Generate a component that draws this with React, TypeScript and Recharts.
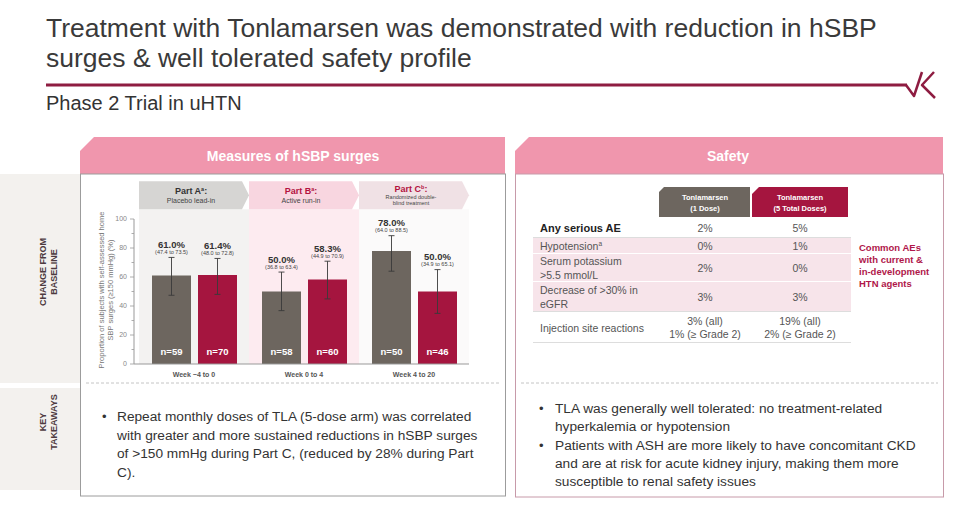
import React from "react";
import { BarChart, Bar, XAxis, YAxis, ErrorBar, LabelList, ReferenceArea } from "recharts";

const weeks = ["Week \u22124 to 0", "Week 0 to 4", "Week 4 to 20"];
const oneDose = [61.0, 50.0, 78.0];
const oneDoseLow = [47.4, 36.8, 64.0];
const oneDoseHigh = [73.5, 63.4, 88.5];
const oneDoseN = [59, 58, 50];
const fiveDose = [61.4, 58.3, 50.0];
const fiveDoseLow = [48.0, 44.9, 34.9];
const fiveDoseHigh = [72.8, 70.9, 65.1];
const fiveDoseN = [70, 60, 46];
const yTicks = [0, 10, 20, 30, 40, 50, 60, 70, 80, 90, 100];

const partTitles = ["Part A", "Part B", "Part C"];
const partNotes = ["a", "a", "b"];
const partSubtitles = [["Placebo lead-in"], ["Active run-in"], ["Randomized double-", "blind treatment"]];
const partTop = 126; // header band reaches above the 100 line

const aeLabels = [
  ["Any serious AE"],
  ["Hypotension"],
  ["Serum potassium", ">5.5 mmol/L"],
  ["Decrease of >30% in", "eGFR"],
  ["Injection site reactions"],
];
const aeNotes = ["", "a", "", "", ""];
const aeOneDose = [["2%"], ["0%"], ["2%"], ["3%"], ["3% (all)", "1% (\u2265 Grade 2)"]];
const aeFiveDose = [["5%"], ["1%"], ["0%"], ["3%"], ["19% (all)", "2% (\u2265 Grade 2)"]];

const chartData = weeks.map((week, i) => ({
  week,
  one: oneDose[i],
  five: fiveDose[i],
  oneErr: [oneDose[i] - oneDoseLow[i], oneDoseHigh[i] - oneDose[i]],
  fiveErr: [fiveDose[i] - fiveDoseLow[i], fiveDoseHigh[i] - fiveDose[i]],
}));

const SANS = '"Liberation Sans", Arial, sans-serif';
const PINK = "#f096ad";
const MAROON = "#a5153f";
const GRAY = "#6d665f";

const headerFill = ["#d6d5d3", "#f8d6e0", "#f0e1e5"];
const bandFill = ["#f3f2f1", "#fdebf0", "#fbfafa"];
const titleFill = ["#333333", "#b3123f", "#b3123f"];

// table row layout
const rowTops = [218, 238, 254, 282, 312];
const rowHeights = [20, 16, 28, 30, 31];

function PartHeader(props: any) {
  const { x, y, width, height, index } = props;
  const h = 28;
  const cx = x + (width - 6) / 2;
  const subs = partSubtitles[index];
  const twoLine = subs.length > 1;
  return (
    <g>
      <rect x={x} y={y + h} width={width} height={height - h} fill={bandFill[index]} />
      <path
        d={`M${x},${y} L${x + width - 7},${y} L${x + width},${y + h / 2} L${x + width - 7},${y + h} L${x},${y + h} Z`}
        fill={headerFill[index]}
      />
      <text x={cx} y={y + (twoLine ? 11 : 12.5)} textAnchor="middle" fontFamily={SANS} fontSize={9} fontWeight="bold" fill={titleFill[index]}>
        {partTitles[index]}
        <tspan fontSize={5.5} dy={-3}>{partNotes[index]}</tspan>
        <tspan dy={3}>:</tspan>
      </text>
      {subs.map((s, k) => (
        <text
          key={k}
          x={cx}
          y={y + (twoLine ? 18 + k * 5.5 : 21.5)}
          textAnchor="middle"
          fontFamily={SANS}
          fontSize={twoLine ? 5.5 : 7}
          fill="#444"
        >
          {s}
        </text>
      ))}
    </g>
  );
}

function makeTopLabel(values: number[], low: number[], high: number[]) {
  return (props: any) => {
    const vb = props.viewBox ?? props;
    const { x, y, width, height } = vb;
    const i = props.index;
    const v = values[i];
    const pxPerUnit = height / v;
    const top = y - (high[i] - v) * pxPerUnit;
    const cx = x + width / 2;
    return (
      <g>
        <text x={cx} y={top - 9.5} textAnchor="middle" fontFamily={SANS} fontSize={9.5} fontWeight="bold" fill="#333">
          {v.toFixed(1)}%
        </text>
        <text x={cx} y={top - 3.5} textAnchor="middle" fontFamily={SANS} fontSize={5.5} fill="#444">
          ({low[i].toFixed(1)} to {high[i].toFixed(1)})
        </text>
      </g>
    );
  };
}

function makeNLabel(ns: number[]) {
  return (props: any) => {
    const vb = props.viewBox ?? props;
    const { x, y, width, height } = vb;
    return (
      <text x={x + width / 2} y={y + height - 9} textAnchor="middle" fontFamily={SANS} fontSize={9.5} fontWeight="bold" fill="#fff">
        n={ns[props.index]}
      </text>
    );
  };
}

function YTick(props: any) {
  const { x, y, payload } = props;
  const major = payload.value % 20 === 0;
  return (
    <g>
      <line x1={x - (major ? 4 : 2.5)} x2={x} y1={y} y2={y} stroke="#999" strokeWidth={0.8} />
      {major && (
        <text x={x - 7} y={y} dy="0.35em" textAnchor="end" fontFamily={SANS} fontSize={7} fill="#888">
          {payload.value}
        </text>
      )}
    </g>
  );
}

function XTick(props: any) {
  const { x, y, payload } = props;
  return (
    <text x={x} y={y + 12.5} textAnchor="middle" fontFamily={SANS} fontSize={7} fontWeight="bold" fill="#555">
      {payload.value}
    </text>
  );
}

function SurgeChart() {
  return (
    <BarChart
      width={400}
      height={210}
      data={chartData}
      margin={{ top: 44, right: 11, bottom: 0, left: 0 }}
      barGap={7}
      barSize={39}
    >
      {weeks.map((w, i) => (
        <ReferenceArea
          key={w}
          x1={w}
          x2={w}
          y1={0}
          y2={partTop}
          ifOverflow="visible"
          shape={(p: any) => <PartHeader {...p} index={i} />}
        />
      ))}
      <XAxis
        dataKey="week"
        padding={{ left: 5, right: 0 }}
        tickLine={false}
        tickSize={0}
        tickMargin={0}
        height={21}
        axisLine={{ stroke: "#999" }}
        tick={<XTick />}
        interval={0}
      />
      <YAxis
        domain={[0, 100]}
        allowDataOverflow
        ticks={yTicks}
        interval={0}
        width={54}
        tickLine={false}
        tickSize={0}
        tickMargin={0}
        axisLine={{ stroke: "#999" }}
        tick={<YTick />}
      />
      <Bar dataKey="one" fill={GRAY} isAnimationActive={false}>
        <ErrorBar dataKey="oneErr" width={3} stroke="#3a3a3a" strokeWidth={0.9} direction="y" />
        <LabelList dataKey="one" content={makeTopLabel(oneDose, oneDoseLow, oneDoseHigh)} />
        <LabelList dataKey="one" content={makeNLabel(oneDoseN)} />
      </Bar>
      <Bar dataKey="five" fill={MAROON} isAnimationActive={false}>
        <ErrorBar dataKey="fiveErr" width={3} stroke="#3a3a3a" strokeWidth={0.9} direction="y" />
        <LabelList dataKey="five" content={makeTopLabel(fiveDose, fiveDoseLow, fiveDoseHigh)} />
        <LabelList dataKey="five" content={makeNLabel(fiveDoseN)} />
      </Bar>
    </BarChart>
  );
}

function RotLabel({ lines, cx, cy, gap, size, color, bold }: any) {
  return (
    <g>
      {lines.map((l: string, k: number) => {
        const bx = cx + (k - (lines.length - 1) / 2) * gap + size * 0.36;
        return (
          <text
            key={k}
            x={bx}
            y={cy}
            transform={`rotate(-90 ${bx} ${cy})`}
            textAnchor="middle"
            fontFamily={SANS}
            fontSize={size}
            fontWeight={bold ? "bold" : "normal"}
            fill={color}
          >
            {l}
          </text>
        );
      })}
    </g>
  );
}

export default function App() {
  return (
    <div style={{ position: "absolute", left: 0, top: 0, width: 960, height: 516, background: "#fff", overflow: "hidden" }}>
      <svg width={960} height={516} style={{ position: "absolute", left: 0, top: 0 }}>
        {/* title */}
        <text x={46} y={37} fontFamily={SANS} fontSize={26.5} fill="#3a3a3a">
          Treatment with Tonlamarsen was demonstrated with reduction in hSBP
        </text>
        <text x={46} y={66.5} fontFamily={SANS} fontSize={26.5} fill="#3a3a3a">
          surges &amp; well tolerated safety profile
        </text>
        <line x1={46} x2={907} y1={85} y2={85} stroke="#8e1c41" strokeWidth={3} />
        <path d="M906,85 L914,96 L922,72" fill="none" stroke="#8e1c41" strokeWidth={2.5} strokeLinejoin="round" />
        <path d="M934,72 L922,85 L935,98" fill="none" stroke="#8e1c41" strokeWidth={2.5} strokeLinejoin="round" />
        <text x={46} y={110} fontFamily={SANS} fontSize={20} fill="#333">
          Phase 2 Trial in uHTN
        </text>

        {/* side labels */}
        <rect x={0} y={174} width={82} height={209} fill="#f3f1ee" />
        <rect x={0} y={388} width={82} height={102} fill="#f3f1ee" />
        <RotLabel lines={["CHANGE FROM", "BASELINE"]} cx={48} cy={272} gap={11} size={9} color="#4d3a40" bold />
        <RotLabel lines={["KEY", "TAKEAWAYS"]} cx={48} cy={422} gap={11} size={9} color="#4d3a40" bold />

        {/* panels */}
        <path d="M80,151 L94,137 L505,137 L505,174 L80,174 Z" fill={PINK} />
        <rect x={80.5} y={174} width={425} height={322} fill="#fff" stroke="#9c9c9c" />
        <text x={293} y={161} textAnchor="middle" fontFamily={SANS} fontSize={14} fontWeight="bold" fill="#fff">
          Measures of hSBP surges
        </text>
        <path d="M515,151 L529,137 L943,137 L943,174 L515,174 Z" fill={PINK} />
        <rect x={515.5} y={174} width={428} height={323} fill="#fff" stroke="#c79aa9" />
        <text x={728} y={161} textAnchor="middle" fontFamily={SANS} fontSize={14} fontWeight="bold" fill="#fff">
          Safety
        </text>
        <line x1={86} x2={500} y1={383} y2={383} stroke="#c4c4c4" strokeDasharray="3 2" />
        <line x1={521} x2={938} y1={383} y2={383} stroke="#c4c4c4" strokeDasharray="3 2" />

        {/* chart y label */}
        <RotLabel
          lines={["Proportion of subjects with self-assessed home", "SBP surges (\u2265150 mmHg) (%)"]}
          cx={105.5}
          cy={290}
          gap={9}
          size={7.5}
          color="#777"
        />

        {/* safety table */}
        <path d="M659,192 L664,187 L750,187 L750,217 L659,217 Z" fill={GRAY} />
        <path d="M752,194 L759,187 L848,187 L848,217 L752,217 Z" fill={MAROON} />
        <text x={705} y={200} textAnchor="middle" fontFamily={SANS} fontSize={7.5} fontWeight="bold" fill="#fff">Tonlamarsen</text>
        <text x={705} y={211} textAnchor="middle" fontFamily={SANS} fontSize={7.5} fontWeight="bold" fill="#fff">(1 Dose)</text>
        <text x={800} y={200} textAnchor="middle" fontFamily={SANS} fontSize={7.5} fontWeight="bold" fill="#fff">Tonlamarsen</text>
        <text x={800} y={211} textAnchor="middle" fontFamily={SANS} fontSize={7.5} fontWeight="bold" fill="#fff">(5 Total Doses)</text>
        {aeLabels.map((lab, r) => {
          const top = rowTops[r];
          const h = rowHeights[r];
          const mid = top + h / 2;
          const shaded = r >= 1 && r <= 3;
          const lineY = (n: number, k: number) => mid + 4 + (k - (n - 1) / 2) * 13.5;
          return (
            <g key={r}>
              {shaded && <rect x={533} y={top} width={318} height={h} fill="#f7e4ea" />}
              <line x1={533} x2={851} y1={top + h - 0.5} y2={top + h - 0.5} stroke={shaded && r < 3 ? "#fff" : "#ddd"} strokeWidth={1} />
              {lab.map((t, k) => (
                <text key={k} x={540} y={lineY(lab.length, k)} fontFamily={SANS} fontSize={r === 0 ? 11 : 10.5} fontWeight={r === 0 ? "bold" : "normal"} fill={r === 0 ? "#222" : "#555"}>
                  {t}
                  {k === 0 && aeNotes[r] && <tspan fontSize={6.5} dy={-4}>{aeNotes[r]}</tspan>}
                </text>
              ))}
              {aeOneDose[r].map((t, k) => (
                <text key={"o" + k} x={705} y={lineY(aeOneDose[r].length, k)} textAnchor="middle" fontFamily={SANS} fontSize={10.5} fill="#555">{t}</text>
              ))}
              {aeFiveDose[r].map((t, k) => (
                <text key={"f" + k} x={800} y={lineY(aeFiveDose[r].length, k)} textAnchor="middle" fontFamily={SANS} fontSize={10.5} fill="#555">{t}</text>
              ))}
            </g>
          );
        })}
        {["Common AEs", "with current &", "in-development", "HTN agents"].map((t, k) => (
          <text key={k} x={859} y={251 + k * 12} fontFamily={SANS} fontSize={9.5} fontWeight="bold" fill="#b0174a">{t}</text>
        ))}

        {/* takeaways */}
        <text x={102} y={421} fontFamily={SANS} fontSize={13} fill="#333">{"\u2022"}</text>
        {[
          "Repeat monthly doses of TLA (5-dose arm) was correlated",
          "with greater and more sustained reductions in hSBP surges",
          "of >150 mmHg during Part C, (reduced by 28% during Part",
          "C).",
        ].map((t, k) => (
          <text key={k} x={117} y={421 + k * 18.7} fontFamily={SANS} fontSize={13.7} fill="#333">{t}</text>
        ))}
        <text x={539} y={413} fontFamily={SANS} fontSize={13} fill="#333">{"\u2022"}</text>
        {["TLA was generally well tolerated: no treatment-related", "hyperkalemia or hypotension"].map((t, k) => (
          <text key={k} x={555} y={413 + k * 17.5} fontFamily={SANS} fontSize={13.7} fill="#333">{t}</text>
        ))}
        <text x={539} y={450} fontFamily={SANS} fontSize={13} fill="#333">{"\u2022"}</text>
        {[
          "Patients with ASH are more likely to have concomitant CKD",
          "and are at risk for acute kidney injury, making them more",
          "susceptible to renal safety issues",
        ].map((t, k) => (
          <text key={k} x={555} y={450 + k * 18} fontFamily={SANS} fontSize={13.7} fill="#333">{t}</text>
        ))}
      </svg>
      <div style={{ position: "absolute", left: 80, top: 175 }}>
        <SurgeChart />
      </div>
    </div>
  );
}
